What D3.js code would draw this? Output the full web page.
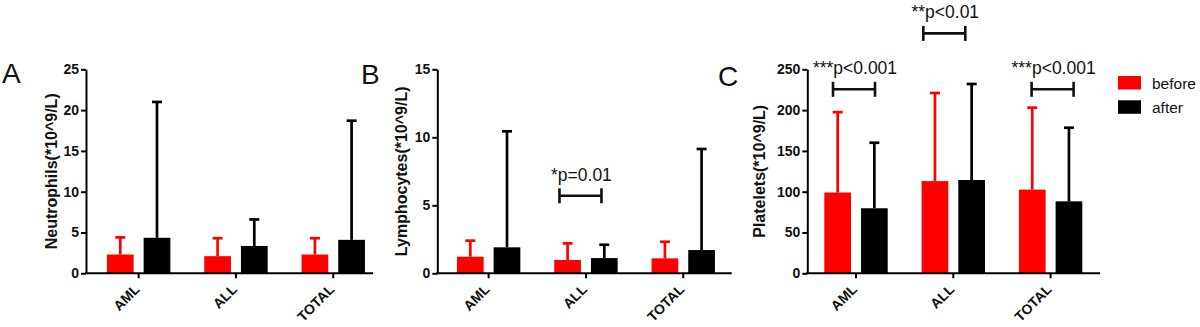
<!DOCTYPE html>
<html><head><meta charset="utf-8">
<script src="https://cdn.jsdelivr.net/npm/d3@7"></script>
<style>
body{margin:0;background:#fff}
svg{display:block}
text{font-family:"Liberation Sans",Arial,Helvetica,sans-serif}
</style>
</head><body>
<svg id="chart" width="1200" height="327"></svg>
<script>
// ---------------- data ----------------
const categories = ["AML", "ALL", "TOTAL"];
const series = ["before", "after"];
const seriesColors = ["#ff0000", "#000000"];

// Panel A – Neutrophils (mean, upper SD)
const neutroBefore = [2.3, 2.1, 2.3];
const neutroBeforeSD = [2.1, 2.2, 2.0];
const neutroAfter = [4.35, 3.35, 4.1];
const neutroAfterSD = [16.65, 3.25, 14.6];
const neutroTicks = [0, 5, 10, 15, 20, 25];

// Panel B – Lymphocytes
const lymphoBefore = [1.22, 0.98, 1.1];
const lymphoBeforeSD = [1.18, 1.22, 1.22];
const lymphoAfter = [1.91, 1.12, 1.71];
const lymphoAfterSD = [8.53, 0.98, 7.43];
const lymphoTicks = [0, 5, 10, 15];

// Panel C – Platelets
const plateletBefore = [99, 113, 102.5];
const plateletBeforeSD = [98.5, 108, 100.5];
const plateletAfter = [79.7, 114.3, 88.2];
const plateletAfterSD = [80.3, 117.7, 90.2];
const plateletTicks = [0, 50, 100, 150, 200, 250];

// significance annotations (category, bracket level in data units, label)
const neutroSig = [];
const lymphoSig = [{cat: "ALL", y: 5.7, label: "*p=0.01"}];
const plateletSig = [
  {cat: "AML", y: 225.5, label: "***p<0.001"},
  {cat: "ALL", y: 294, label: "**p<0.01"},
  {cat: "TOTAL", y: 225.5, label: "***p<0.001"}
];

// ---------------- layout ----------------
const yTop = 69.3, yBottom = 273.3, step = 97.3;
const panels = [
  {letter: "A", letterX: 2, letterY: 83, title: "Neutrophils(*10^9/L)", titleX: 57,
   axisX: 86, bandStart: 90, axisEnd: 373, max: 25, ticks: neutroTicks,
   means: [neutroBefore, neutroAfter], sds: [neutroBeforeSD, neutroAfterSD],
   sig: neutroSig, sigShift: []},
  {letter: "B", letterX: 361, letterY: 83.5, title: "Lymphocytes(*10^9/L)", titleX: 407,
   axisX: 437.3, bandStart: 440, axisEnd: 731.7, max: 15, ticks: lymphoTicks,
   means: [lymphoBefore, lymphoAfter], sds: [lymphoBeforeSD, lymphoAfterSD],
   sig: lymphoSig, sigShift: [-5.5]},
  {letter: "C", letterX: 718, letterY: 86, title: "Platelets(*10^9/L)", titleX: 765,
   axisX: 807.3, bandStart: 807.35, axisEnd: 1100, max: 250, ticks: plateletTicks,
   means: [plateletBefore, plateletAfter], sds: [plateletBeforeSD, plateletAfterSD],
   sig: plateletSig, sigShift: [-2, -9, 2]}
];

const svg = d3.select("#chart");
const sub = d3.scaleBand().domain(series).range([-31.7, 31.7]).paddingInner(0.272);

panels.forEach(p => {
  const g = svg.append("g");
  const x = d3.scaleBand().domain(categories).range([p.bandStart, p.bandStart + step * categories.length]);
  const y = d3.scaleLinear().domain([0, p.max]).range([yBottom, yTop]);

  // panel letter
  g.append("text").attr("x", p.letterX).attr("y", p.letterY)
    .attr("font-size", 28).attr("fill", "#111").text(p.letter);

  // bars & error bars
  series.forEach((s, si) => {
    const rows = categories.map((c, ci) => ({c, m: p.means[si][ci], sd: p.sds[si][ci]}));
    const cx = d => x(d.c) + x.bandwidth() / 2 + sub(s) + sub.bandwidth() / 2;
    g.selectAll(null).data(rows).enter().append("line")
      .attr("x1", cx).attr("x2", cx)
      .attr("y1", d => y(d.m)).attr("y2", d => y(d.m + d.sd))
      .attr("stroke", seriesColors[si]).attr("stroke-width", 2.7);
    g.selectAll(null).data(rows).enter().append("line")
      .attr("x1", d => cx(d) - 5).attr("x2", d => cx(d) + 5)
      .attr("y1", d => y(d.m + d.sd)).attr("y2", d => y(d.m + d.sd))
      .attr("stroke", seriesColors[si]).attr("stroke-width", 2.7);
    g.selectAll(null).data(rows).enter().append("rect")
      .attr("x", d => x(d.c) + x.bandwidth() / 2 + sub(s))
      .attr("width", sub.bandwidth())
      .attr("y", d => y(d.m))
      .attr("height", d => yBottom - y(d.m))
      .attr("fill", seriesColors[si]);
  });

  // y axis
  const ya = g.append("g").attr("transform", `translate(${p.axisX},0)`)
    .call(d3.axisLeft(y).tickValues(p.ticks).tickSize(5).tickSizeOuter(0).tickPadding(2));
  ya.select(".domain").attr("stroke", "#000").attr("stroke-width", 2);
  ya.selectAll(".tick line").attr("stroke", "#000").attr("stroke-width", 2);
  ya.selectAll(".tick text").attr("font-size", 14).attr("font-weight", "bold")
    .attr("fill", "#111").style("font-family", '"Liberation Sans",Arial,sans-serif');

  // x axis
  const xa = g.append("g").attr("transform", `translate(0,${yBottom})`)
    .call(d3.axisBottom(x).tickSize(5).tickSizeOuter(0));
  xa.select(".domain").remove();
  xa.selectAll(".tick line").attr("stroke", "#000").attr("stroke-width", 2);
  xa.selectAll(".tick text")
    .attr("font-size", 14).attr("font-weight", "bold").attr("fill", "#111")
    .style("font-family", '"Liberation Sans",Arial,sans-serif')
    .attr("text-anchor", "end").attr("dy", null).attr("y", 0).attr("x", 0)
    .attr("transform", "translate(2,17) rotate(-45)");
  g.append("line").attr("x1", p.axisX - 1).attr("x2", p.axisEnd)
    .attr("y1", yBottom).attr("y2", yBottom)
    .attr("stroke", "#000").attr("stroke-width", 2);

  // y title
  g.append("text")
    .attr("transform", `translate(${p.titleX},${(yTop + yBottom) / 2}) rotate(-90)`)
    .attr("text-anchor", "middle").attr("font-size", 16).attr("font-weight", "bold")
    .attr("fill", "#111").text(p.title);

  // significance brackets
  p.sig.forEach((s, i) => {
    const cx = x(s.cat) + x.bandwidth() / 2 + (p.sigShift[i] || 0);
    const by = y(s.y);
    const hw = 21;
    const sg = g.append("g").attr("stroke", "#111").attr("stroke-width", 2.6);
    sg.append("line").attr("x1", cx - hw).attr("x2", cx + hw).attr("y1", by).attr("y2", by);
    sg.append("line").attr("x1", cx - hw).attr("x2", cx - hw).attr("y1", by - 7.5).attr("y2", by + 7.5);
    sg.append("line").attr("x1", cx + hw).attr("x2", cx + hw).attr("y1", by - 7.5).attr("y2", by + 7.5);
    g.append("text").attr("x", cx + 1).attr("y", by - 15)
      .attr("text-anchor", "middle").attr("font-size", 17.5).attr("fill", "#111")
      .text(s.label);
  });
});

// legend
const legend = svg.append("g").attr("transform", "translate(1118,76)");
series.forEach((s, i) => {
  legend.append("rect").attr("x", 0).attr("y", i * 24.3).attr("width", 23).attr("height", 13.5)
    .attr("fill", seriesColors[i]);
  legend.append("text").attr("x", 34).attr("y", i * 24.3 + 12.5)
    .attr("font-size", 15.5).attr("fill", "#111").text(s);
});
</script>
</body></html>
